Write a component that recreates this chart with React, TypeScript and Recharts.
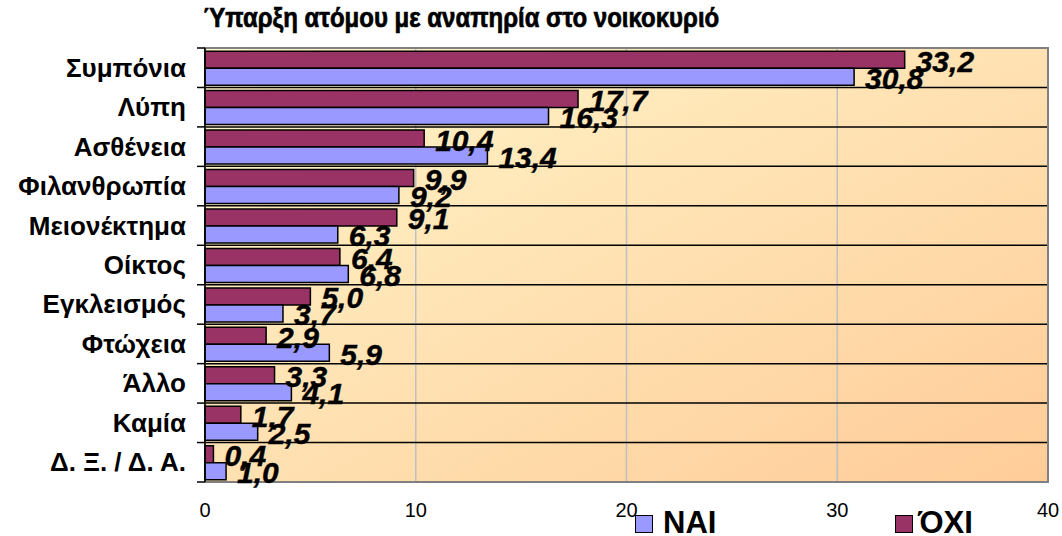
import {
  BarChart,
  Bar,
  XAxis,
  YAxis,
  CartesianGrid,
  Legend,
  LabelList,
  ReferenceArea,
} from 'recharts';

const categories = [
  'Συμπόνια',
  'Λύπη',
  'Ασθένεια',
  'Φιλανθρωπία',
  'Μειονέκτημα',
  'Οίκτος',
  'Εγκλεισμός',
  'Φτώχεια',
  'Άλλο',
  'Καμία',
  'Δ. Ξ. / Δ. Α.',
];
const oxiValues = [33.2, 17.7, 10.4, 9.9, 9.1, 6.4, 5.0, 2.9, 3.3, 1.7, 0.4];
const naiValues = [30.8, 16.3, 13.4, 9.2, 6.3, 6.8, 3.7, 5.9, 4.1, 2.5, 1.0];
const xTicks = [0, 10, 20, 30, 40];

const FONT = '"Liberation Sans", Arial, sans-serif';
const NAI_COLOR = '#9999FF';
const OXI_COLOR = '#993366';

const data = categories.map((name, i) => ({
  name,
  oxi: oxiValues[i],
  nai: naiValues[i],
}));

const fmt = (v: number) => v.toFixed(1).replace('.', ',');

const ValueLabel = (props: any) => {
  const { x, y, width, height, value } = props;
  return (
    <text
      x={Number(x) + Number(width) + 11}
      y={Number(y) + Number(height) / 2 + 12}
      fontFamily={FONT}
      fontSize={30}
      fontWeight="bold"
      fontStyle="italic"
      fill="#000"
      stroke="#000"
      strokeWidth={0.4}
    >
      {fmt(Number(value))}
    </text>
  );
};

const CategoryTick = (props: any) => {
  const { x, y, payload, index } = props;
  const half = payload?.offset ?? 19.7;
  return (
    <g>
      <text
        x={x}
        y={y}
        dy={9}
        textAnchor="end"
        fontFamily={FONT}
        fontSize={26}
        fontWeight="bold"
        fill="#000"
      >
        {payload.value}
      </text>
      {index === 0 && (
        <line x1={x + 11} x2={x + 19} y1={y - half} y2={y - half} stroke="#000" strokeWidth={1.5} />
      )}
      <line x1={x + 11} x2={x + 19} y1={y + half} y2={y + half} stroke="#000" strokeWidth={1.5} />
    </g>
  );
};

const LegendContent = () => (
  <div style={{ position: 'relative', height: 31, fontFamily: FONT }}>
    <div
      style={{
        position: 'absolute',
        left: 635,
        top: 10,
        width: 16,
        height: 16,
        background: NAI_COLOR,
        border: '1.5px solid #000',
      }}
    />
    <div
      style={{
        position: 'absolute',
        left: 663,
        top: 2,
        fontSize: 31,
        lineHeight: '31px',
        fontWeight: 'bold',
      }}
    >
      ΝΑΙ
    </div>
    <div
      style={{
        position: 'absolute',
        left: 895,
        top: 10,
        width: 16,
        height: 16,
        background: OXI_COLOR,
        border: '1.5px solid #000',
      }}
    />
    <div
      style={{
        position: 'absolute',
        left: 918,
        top: 2,
        fontSize: 31,
        lineHeight: '31px',
        fontWeight: 'bold',
      }}
    >
      ΌΧΙ
    </div>
  </div>
);

export default function App() {
  return (
    <div style={{ position: 'absolute', left: 0, top: 0, width: 1062, height: 536, background: '#fff', overflow: 'hidden' }}>
      <BarChart
        width={1062}
        height={536}
        data={data}
        layout="vertical"
        margin={{ top: 48, right: 14, bottom: 0, left: 0 }}
        barCategoryGap="8%"
        barGap={0}
      >
        <defs>
          <linearGradient id="plotBg" x1="0" y1="0" x2="1" y2="1">
            <stop offset="0%" stopColor="#FFF6CA" />
            <stop offset="100%" stopColor="#FFCC99" />
          </linearGradient>
        </defs>
        <text
          transform="translate(203 27) scale(1 1.18)"
          fontFamily={FONT}
          fontSize={24}
          fontWeight="bold"
          fill="#000"
          stroke="#000"
          strokeWidth={0.6}
        >
          Ύπαρξη ατόμου με αναπηρία στο νοικοκυριό
        </text>
        <CartesianGrid
          horizontal={false}
          vertical
          stroke="#C0C0C0"
          strokeWidth={1.5}
          fill="url(#plotBg)"
        />
        <CartesianGrid
          vertical={false}
          horizontal
          stroke="#000"
          strokeWidth={1.5}
          horizontalCoordinatesGenerator={({ offset }: any) =>
            categories.slice(1).map((_, i) => offset.top + (offset.height * (i + 1)) / categories.length)
          }
        />
        <ReferenceArea x1={0} x2={40} fill="none" stroke="#808080" strokeWidth={2} ifOverflow="visible" />
        <XAxis
          type="number"
          domain={[0, 40]}
          ticks={xTicks}
          axisLine={false}
          tickLine={false}
          tickSize={0}
          tickMargin={21}
          height={54}
          tick={{ fontFamily: FONT, fontSize: 20, fill: '#000' }}
        />
        <YAxis
          type="category"
          dataKey="name"
          width={205}
          axisLine={{ stroke: '#000', strokeWidth: 1.5 }}
          tickLine={false}
          tickSize={0}
          tickMargin={19}
          tick={<CategoryTick />}
          interval={0}
        />
        <Legend
          layout="horizontal"
          verticalAlign="middle"
          align="center"
          wrapperStyle={{ position: 'absolute', left: 0, top: 505, width: 1062, height: 31 }}
          content={<LegendContent />}
        />
        <Bar dataKey="oxi" name="ΌΧΙ" fill={OXI_COLOR} stroke="#000" strokeWidth={1.5} isAnimationActive={false}>
          <LabelList dataKey="oxi" content={<ValueLabel />} />
        </Bar>
        <Bar dataKey="nai" name="ΝΑΙ" fill={NAI_COLOR} stroke="#000" strokeWidth={1.5} isAnimationActive={false}>
          <LabelList dataKey="nai" content={<ValueLabel />} />
        </Bar>
      </BarChart>
    </div>
  );
}
